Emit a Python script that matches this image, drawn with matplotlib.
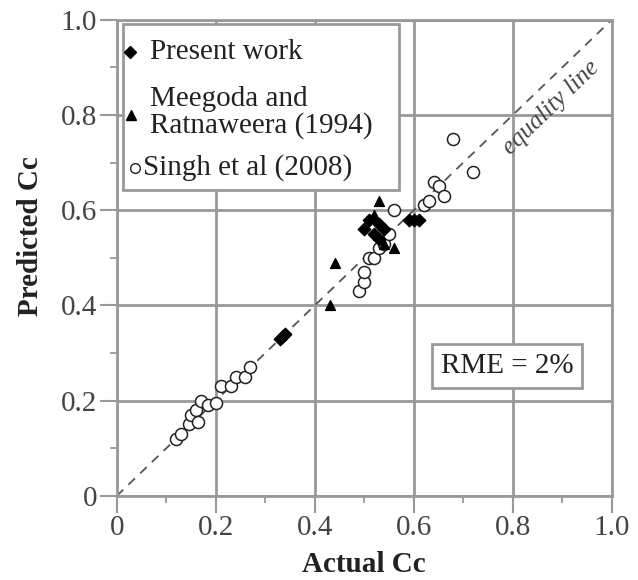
import numpy as np
import matplotlib.pyplot as plt
from matplotlib.ticker import MultipleLocator, FuncFormatter

plt.rcParams['font.family'] = ['Liberation Serif', 'DejaVu Serif']

# Present work
present_actual = [0.33, 0.34, 0.335, 0.51, 0.50, 0.52, 0.53, 0.54, 0.53, 0.59, 0.60, 0.61]
present_pred = [0.33, 0.34, 0.335, 0.58, 0.56, 0.55, 0.54, 0.56, 0.57, 0.58, 0.58, 0.58]

# Meegoda and Ratnaweera (1994)
meegoda_actual = [0.44, 0.43, 0.53, 0.52, 0.54, 0.56]
meegoda_pred = [0.49, 0.40, 0.62, 0.59, 0.53, 0.52]

# Singh et al (2008)
singh_actual = [0.12, 0.13, 0.145, 0.15, 0.16, 0.165, 0.17, 0.185, 0.20, 0.21, 0.23, 0.24,
                0.26, 0.27, 0.49, 0.50, 0.50, 0.51, 0.52, 0.53, 0.54, 0.55, 0.56,
                0.62, 0.63, 0.64, 0.65, 0.66, 0.68, 0.72]
singh_pred = [0.12, 0.13, 0.15, 0.17, 0.18, 0.155, 0.20, 0.19, 0.195, 0.23, 0.23, 0.25,
              0.25, 0.27, 0.43, 0.45, 0.47, 0.50, 0.50, 0.52, 0.53, 0.55, 0.60,
              0.61, 0.62, 0.66, 0.65, 0.63, 0.75, 0.68]

fig = plt.figure(figsize=(6.38, 5.8), dpi=100)
ax = fig.add_axes([0.183, 0.145, 0.776, 0.821])

grid_col = '#999999'
txt_col = '#222222'
fs = 21

ax.set_xlim(0, 1.0)
ax.set_ylim(0, 1.0)
ax.xaxis.set_major_locator(MultipleLocator(0.2))
ax.yaxis.set_major_locator(MultipleLocator(0.2))
ax.xaxis.set_minor_locator(MultipleLocator(0.1))
ax.yaxis.set_minor_locator(MultipleLocator(0.1))
fmt = FuncFormatter(lambda v, p: '0' if abs(v) < 1e-9 else f'{v:.1f}')
ax.xaxis.set_major_formatter(fmt)
ax.yaxis.set_major_formatter(fmt)
ax.grid(True, which='major', color=grid_col, linewidth=2)
ax.tick_params(which='major', direction='out', length=12, width=1.5, color=grid_col,
               labelsize=fs, labelcolor='#444444', pad=2)
ax.tick_params(which='minor', direction='out', length=5, width=1.3, color=grid_col)
for s in ax.spines.values():
    s.set_color(grid_col)
    s.set_linewidth(2)
ax.set_axisbelow(True)

# equality line
ax.plot([0, 1], [0, 1], linestyle=(0, (5, 4)), color='#555555', linewidth=1.3, zorder=2)
ax.text(0.877, 0.815, 'equality line', rotation=44, rotation_mode='anchor',
        ha='center', va='center', style='italic', fontsize=18, color='#444444')

ax.scatter(singh_actual, singh_pred, s=75, facecolors='white', edgecolors=txt_col,
           linewidths=1.1, marker='o', zorder=3)
ax.scatter(meegoda_actual, meegoda_pred, s=50, color='black', marker='^', zorder=4)
ax.scatter(present_actual, present_pred, s=40, color='black', marker='D', zorder=5)

# legend drawn as text in a box
ax.add_patch(plt.Rectangle((0.012, 0.643), 0.559, 0.347, transform=ax.transAxes,
                           facecolor='white', edgecolor=grid_col, linewidth=2, zorder=6))
ax.plot([0.027], [0.933], marker='D', color='black', markersize=6,
        transform=ax.transAxes, zorder=7)
ax.text(0.068, 0.933, 'Present work', transform=ax.transAxes, fontsize=fs,
        va='center', ha='left', color=txt_col, zorder=7)
ax.plot([0.029], [0.80], marker='^', color='black', markersize=7,
        transform=ax.transAxes, zorder=7)
ax.text(0.068, 0.805, 'Meegoda and\nRatnaweera (1994)', transform=ax.transAxes, fontsize=fs,
        va='center', ha='left', color=txt_col, linespacing=1.0, zorder=7)
ax.plot([0.036], [0.689], marker='o', markerfacecolor='white', markeredgecolor=txt_col,
        markersize=7, transform=ax.transAxes, zorder=7)
ax.text(0.053, 0.689, 'Singh et al (2008)', transform=ax.transAxes, fontsize=fs,
        va='center', ha='left', color=txt_col, zorder=7)

ax.text(0.788, 0.273, 'RME = 2%', fontsize=fs, ha='center', va='center', color=txt_col,
        bbox=dict(boxstyle='square,pad=0.3', facecolor='white', edgecolor=grid_col,
                  linewidth=2), zorder=7)

ax.set_xlabel('Actual Cc', fontsize=fs, fontweight='bold', color=txt_col, labelpad=7)
ax.set_ylabel('Predicted Cc', fontsize=fs, fontweight='bold', color=txt_col, labelpad=12)
ax.yaxis.label.set_y(0.546)

fig.savefig('out.png', dpi=100)
